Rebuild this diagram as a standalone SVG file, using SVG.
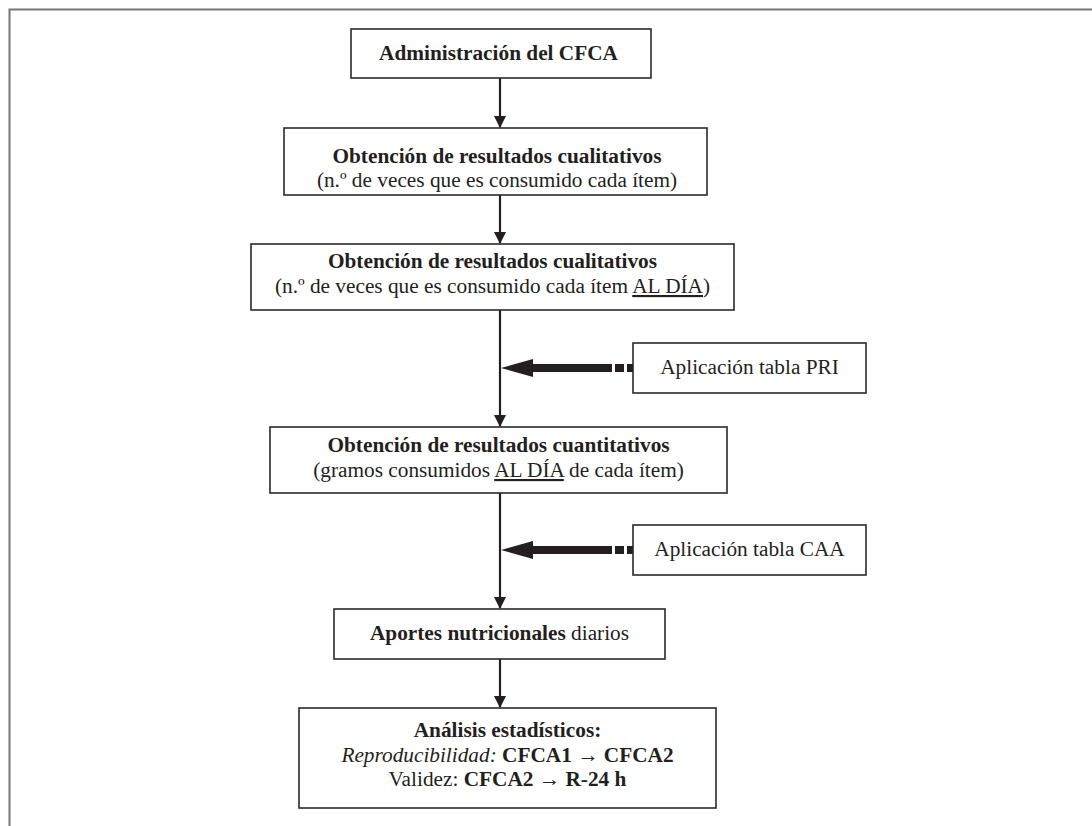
<svg xmlns="http://www.w3.org/2000/svg" width="1092" height="826" viewBox="0 0 1092 826">
<style>
.box{fill:#fff;stroke:#2a2a2a;stroke-width:1.6}
.t{font-family:"Liberation Serif","DejaVu Serif",serif;font-size:21.3px;fill:#231f20;text-anchor:middle}
.b{font-weight:bold}
.ln{stroke:#231f20;stroke-width:2.2;fill:none}
</style>
<defs>
<marker id="ah" markerWidth="12" markerHeight="12" viewBox="0 0 12 12" refX="11" refY="6" orient="auto" markerUnits="userSpaceOnUse">
<path d="M0,0 L12,6 L0,12 Z" fill="#231f20"/>
</marker>
</defs>
<rect width="1092" height="826" fill="#fff"/>
<path d="M9.5,826 V9.5 H1092" fill="none" stroke="#777" stroke-width="2"/>
<g id="connectors">
<line class="ln" x1="500" y1="78" x2="500" y2="127" marker-end="url(#ah)"/>
<line class="ln" x1="500" y1="195" x2="500" y2="243" marker-end="url(#ah)"/>
<line class="ln" x1="500" y1="310" x2="500" y2="426" marker-end="url(#ah)"/>
<line class="ln" x1="500" y1="493" x2="500" y2="608" marker-end="url(#ah)"/>
<line class="ln" x1="500" y1="659" x2="500" y2="707" marker-end="url(#ah)"/>
<g id="pri-arrow" fill="#231f20">
<path d="M501,368 L533,359 L533,364 L612,364 L612,372 L533,372 L533,377 Z"/>
<rect x="615" y="364" width="9" height="8"/>
<rect x="627" y="364" width="6" height="8"/>
</g>
<g id="caa-arrow" fill="#231f20">
<path d="M501,550 L533,541 L533,546 L612,546 L612,554 L533,554 L533,559 Z"/>
<rect x="615" y="546" width="9" height="8"/>
<rect x="627" y="546" width="6" height="8"/>
</g>
</g>
<g id="n1">
<rect class="box" x="351" y="29" width="300" height="49"/>
<text class="t b" x="498.5" y="60">Administración del CFCA</text>
</g>
<g id="n2">
<rect class="box" x="284" y="128" width="423" height="67"/>
<text class="t b" x="497" y="163">Obtención de resultados cualitativos</text>
<text class="t" x="497" y="187">(n.º de veces que es consumido cada ítem)</text>
</g>
<g id="n3">
<rect class="box" x="251" y="244" width="483" height="66"/>
<text class="t b" x="492.5" y="268">Obtención de resultados cualitativos</text>
<text class="t" x="492.5" y="293">(n.º de veces que es consumido cada ítem <tspan text-decoration="underline">AL DÍA</tspan>)</text>
</g>
<g id="n4">
<rect class="box" x="270" y="427" width="457" height="66"/>
<text class="t b" x="498.5" y="452">Obtención de resultados cuantitativos</text>
<text class="t" x="498.5" y="477">(gramos consumidos <tspan text-decoration="underline">AL DÍA</tspan> de cada ítem)</text>
</g>
<g id="n-pri">
<rect class="box" x="633" y="343" width="233" height="50"/>
<text class="t" x="749.5" y="374">Aplicación tabla PRI</text>
</g>
<g id="n-caa">
<rect class="box" x="633" y="525" width="233" height="50"/>
<text class="t" x="749.5" y="556">Aplicación tabla CAA</text>
</g>
<g id="n5">
<rect class="box" x="334" y="609" width="331" height="50"/>
<text class="t" x="499.5" y="640"><tspan class="b">Aportes nutricionales</tspan> diarios</text>
</g>
<g id="n6">
<rect class="box" x="299" y="708" width="417" height="100"/>
<text class="t b" x="507.5" y="737">Análisis estadísticos:</text>
<text class="t" x="507.5" y="762"><tspan font-style="italic">Reproducibilidad:</tspan> <tspan class="b">CFCA1 → CFCA2</tspan></text>
<text class="t" x="507.5" y="786">Validez: <tspan class="b">CFCA2 → R-24 h</tspan></text>
</g>
</svg>
